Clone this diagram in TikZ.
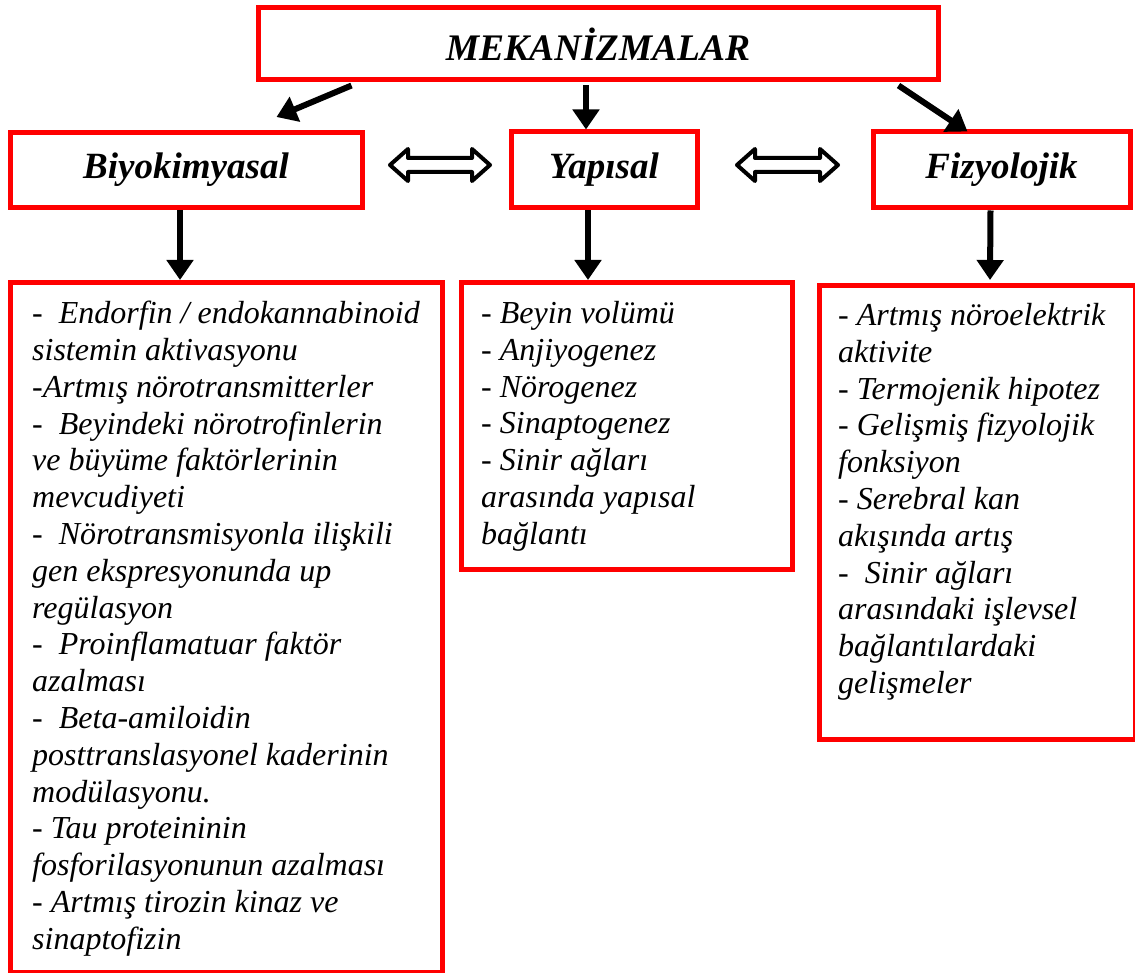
\documentclass[tikz,border=0pt]{standalone}
\usepackage{fontspec}
\setmainfont{Liberation Serif}
\usetikzlibrary{arrows.meta,calc}
\definecolor{boxred}{RGB}{255,0,0}
\tikzset{
  box/.style={draw=boxred, line width=5pt, fill=white, inner sep=0pt},
  head/.style={font=\fontsize{37}{42}\selectfont\bfseries\itshape},
  listtext/.style={anchor=north west, inner sep=0pt, align=left,
    font=\fontsize{32}{36.8}\selectfont\itshape},
  arr/.style={line width=6pt, -{Triangle[length=20pt,width=26pt]}},
  dblarr/.style={draw=black, line width=4pt, fill=white, line join=round}
}
\begin{document}
\begin{tikzpicture}[x=1pt,y=-1pt]
\useasboundingbox (0,0) rectangle (1135,973);

% header and the three category boxes
\node[box, minimum width=680pt, minimum height=72pt,
      font=\fontsize{37.5}{42}\selectfont\bfseries\itshape] (title) at (598,44) {MEKANİZMALAR};
\node[box, head, minimum width=352pt, minimum height=75pt] (bio) at (186,170) {Biyokimyasal};
\node[box, head, minimum width=186pt, minimum height=76pt] (yap) at (604,170) {Yapısal};
\node[box, head, minimum width=257pt, minimum height=76pt] (fiz) at (1001.5,170) {Fizyolojik};

% detail boxes
\node[box, minimum width=432pt, minimum height=690pt, anchor=north west] (lbox) at (8,280) {};
\node[box, minimum width=331pt, minimum height=287pt, anchor=north west] (mbox) at (459,280) {};
\node[box, minimum width=316pt, minimum height=454pt, anchor=north west] (rbox) at (817,283) {};

\node[listtext] (ltext) at ($(lbox.north west)+(24,21)$) {%
-~ Endorfin / endokannabinoid\\
sistemin aktivasyonu\\
-Artmış nörotransmitterler\\
-~ Beyindeki nörotrofinlerin\\
ve büyüme faktörlerinin\\
mevcudiyeti\\
-~ Nörotransmisyonla ilişkili\\
gen ekspresyonunda up\\
regülasyon\\
-~ Proinflamatuar faktör\\
azalması\\
-~ Beta-amiloidin\\
posttranslasyonel kaderinin\\
modülasyonu.\\
- Tau proteininin\\
fosforilasyonunun azalması\\
- Artmış tirozin kinaz ve\\
sinaptofizin};

\node[listtext] (mtext) at ($(mbox.north west)+(22,21)$) {%
- Beyin volümü\\
- Anjiyogenez\\
- Nörogenez\\
- Sinaptogenez\\
- Sinir ağları\\
arasında yapısal\\
bağlantı};

\node[listtext] (rtext) at ($(rbox.north west)+(21,20)$) {%
- Artmış nöroelektrik\\
aktivite\\
- Termojenik hipotez\\
- Gelişmiş fizyolojik\\
fonksiyon\\
- Serebral kan\\
akışında artış\\
-~ Sinir ağları\\
arasındaki işlevsel\\
bağlantılardaki\\
gelişmeler};

% arrows from the header
\coordinate (tL) at ($(title.south west)+(96,3)$);
\coordinate (bL) at ($(bio.north east)+(-88,-13)$);
\draw[arr] (tL) -- (bL);
\coordinate (tM) at ($(title.south -| yap.north)+(-18,3)$);
\draw[arr] (tM) -- ($(yap.north)+(-18,0)$);
\coordinate (tR) at ($(title.south east)+(-42,3)$);
\coordinate (bR) at ($(fiz.north west)+(97,2)$);
\draw[arr] (tR) -- (bR);

% arrows down to the detail boxes
\draw[arr] ($(bio.south)+(-6,0)$) -- ($(lbox.north west)+(172,0)$);
\draw[arr] ($(yap.south)+(-16,0)$) -- ($(mbox.north west)+(129,0)$);
\draw[arr] ($(fiz.south)+(-11,0)$) -- ($(rbox.north west)+(173,-3)$);

% hollow double arrows between the categories
\foreach \a/\b in {390/490, 737/838}{
  \draw[dblarr] (\a,165) -- (\a+18,149) -- (\a+18,158) -- (\b-18,158) -- (\b-18,149)
    -- (\b,165) -- (\b-18,181) -- (\b-18,172) -- (\a+18,172) -- (\a+18,181) -- cycle;
}
\end{tikzpicture}
\end{document}
